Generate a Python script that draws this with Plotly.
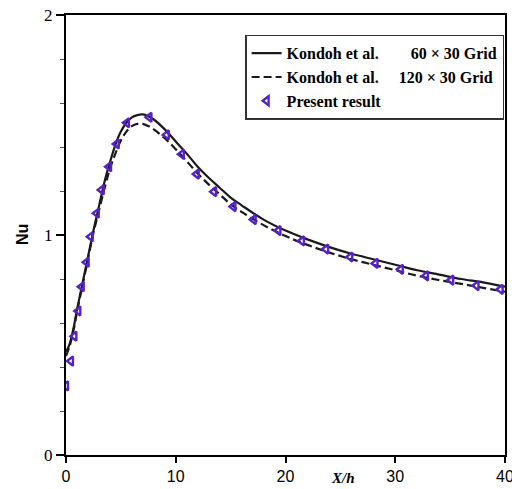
import plotly.graph_objects as go

# Kondoh et al. 60 x 30 grid (solid)
solid_x = [0, 0.3, 0.7, 1, 1.5, 2, 2.5, 3, 3.5, 4, 4.5, 5, 5.5, 6, 6.5, 7, 7.5, 8, 9, 10, 11, 12, 13, 14, 15, 16, 18, 20, 22, 24, 26, 28, 30, 32, 34, 36, 38, 40]
solid_y = [0.47, 0.50, 0.58, 0.66, 0.78, 0.90, 1.02, 1.13, 1.24, 1.33, 1.41, 1.47, 1.51, 1.535, 1.545, 1.548, 1.54, 1.525, 1.48, 1.425, 1.37, 1.31, 1.26, 1.215, 1.17, 1.135, 1.07, 1.02, 0.98, 0.945, 0.915, 0.89, 0.865, 0.84, 0.82, 0.80, 0.785, 0.765]

# Kondoh et al. 120 x 30 grid (dashed)
dash_x = solid_x
dash_y = [0.45, 0.49, 0.57, 0.65, 0.77, 0.89, 1.01, 1.11, 1.21, 1.30, 1.37, 1.43, 1.47, 1.495, 1.505, 1.505, 1.495, 1.48, 1.44, 1.39, 1.335, 1.28, 1.23, 1.185, 1.14, 1.105, 1.045, 0.995, 0.955, 0.92, 0.89, 0.865, 0.84, 0.815, 0.795, 0.778, 0.76, 0.742]

# Present result (markers)
pres_x = [0.0, 0.45, 0.76, 1.12, 1.43, 1.88, 2.25, 2.8, 3.25, 3.92, 4.62, 5.55, 7.6, 9.18, 10.55, 11.91, 13.49, 15.25, 17.1, 19.35, 21.5, 23.7, 25.9, 28.2, 30.5, 32.8, 35.1, 37.4, 39.6]
pres_y = [0.314, 0.427, 0.54, 0.655, 0.765, 0.876, 0.992, 1.099, 1.205, 1.31, 1.414, 1.51, 1.535, 1.455, 1.367, 1.277, 1.197, 1.129, 1.07, 1.02, 0.973, 0.936, 0.90, 0.871, 0.844, 0.814, 0.795, 0.77, 0.753]

nb = "\u00a0"
fig = go.Figure()
fig.add_trace(go.Scatter(x=solid_x, y=solid_y, mode="lines", line=dict(color="#1a1a1a", width=2.2, shape="spline"),
                         name="Kondoh et al." + nb * 8 + "60 × 30 Grid"))
fig.add_trace(go.Scatter(x=dash_x, y=dash_y, mode="lines", line=dict(color="#1a1a1a", width=2.2, dash="8px,4px", shape="spline"),
                         name="Kondoh et al." + nb * 5 + "120 × 30 Grid"))
fig.add_trace(go.Scatter(x=pres_x, y=pres_y, mode="markers",
                         marker=dict(symbol="triangle-left-open", size=8, color="#5522c4", line=dict(width=2.4, color="#5522c4")),
                         name="Present result"))

fig.update_layout(
    width=512, height=489,
    margin=dict(l=66, r=7, t=15, b=34),
    paper_bgcolor="white", plot_bgcolor="white",
    showlegend=True,
    legend=dict(x=0.408, y=0.955, xanchor="left", yanchor="top",
                bordercolor="#333", borderwidth=1.5, bgcolor="white",
                font=dict(family="Liberation Serif", size=16, color="black", weight="bold"),
                tracegroupgap=0),
    xaxis=dict(range=[0, 40], tickvals=[0, 10, 20, 30, 40], ticks="outside", ticklen=6, tickwidth=1.5, tickcolor="black",
               showline=True, linecolor="black", linewidth=2, mirror=True, showgrid=False, zeroline=False,
               automargin=False, ticklabeloverflow="allow",
               tickfont=dict(family="Liberation Sans", size=16, color="black")),
    yaxis=dict(range=[0, 2], tickvals=[0, 1, 2], ticks="outside", ticklen=8, tickwidth=2, tickcolor="black",
               showline=True, linecolor="black", linewidth=2, mirror=True, showgrid=False, zeroline=False,
               automargin=False,
               tickfont=dict(family="Liberation Serif", size=17, color="black"),
               minor=dict(dtick=0.2, ticks="outside", ticklen=4, tickwidth=1, tickcolor="#555")),
    annotations=[
        dict(text="X/h", x=0.63, y=-0.052, xref="paper", yref="paper", xanchor="center", yanchor="middle", showarrow=False,
             font=dict(family="Liberation Serif", size=15, color="black", style="italic", weight="bold")),
        dict(text="Nu", x=-0.1, y=0.5, xref="paper", yref="paper", xanchor="center", yanchor="middle", showarrow=False,
             textangle=-90, font=dict(family="Liberation Sans", size=16, color="black", weight="bold")),
    ],
)

fig.write_html("out.html", config={"displayModeBar": False},
               post_script="document.body.style.margin='0';document.body.style.overflow='hidden';")
